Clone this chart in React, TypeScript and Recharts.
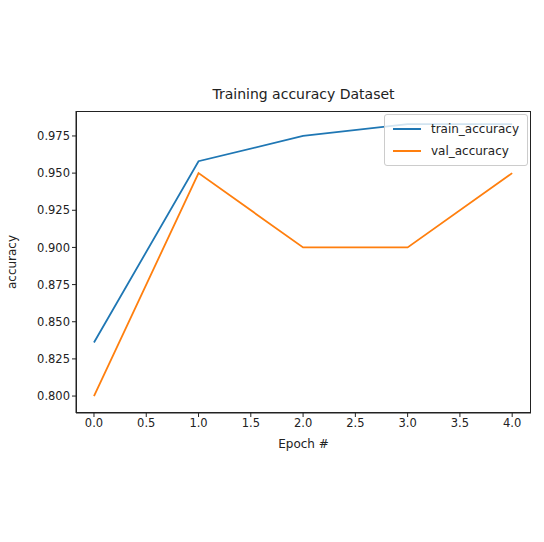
import React from 'react'
import { LineChart, Line, XAxis, YAxis } from 'recharts'

const epochs = [0, 1, 2, 3, 4]
const trainAccuracy = [0.836, 0.958, 0.975, 0.983, 0.983]
const valAccuracy = [0.8, 0.95, 0.9, 0.9, 0.95]
const xTicks = [0, 0.5, 1, 1.5, 2, 2.5, 3, 3.5, 4]
const yTicks = [0.8, 0.825, 0.85, 0.875, 0.9, 0.925, 0.95, 0.975]

const data = epochs.map((e, i) => ({ epoch: e, train: trainAccuracy[i], val: valAccuracy[i] }))

const font = 'DejaVu Sans, sans-serif'
const tick = { fontSize: 11.5, fill: '#222', fontFamily: font }

function LegendBox() {
  const row = (color: string, label: string) => (
    <div style={{ display: 'flex', alignItems: 'center', height: 22 }}>
      <div style={{ width: 28, height: 2, background: color, marginRight: 10 }} />
      <span>{label}</span>
    </div>
  )
  return (
    <div style={{ position: 'absolute', top: 114, right: 16, border: '1px solid #ccc', borderRadius: 3, background: 'rgba(255,255,255,0.8)', padding: '3px 8px', fontFamily: font, fontSize: 12, color: '#222' }}>
      {row('#1f77b4', 'train_accuracy')}
      {row('#ff7f0e', 'val_accuracy')}
    </div>
  )
}

export default function App() {
  return (
    <div style={{ position: 'absolute', top: 0, left: 0, width: 544, height: 542, background: '#fff' }}>
      <div style={{ position: 'absolute', top: 86, left: 76, width: 455, textAlign: 'center', fontFamily: font, fontSize: 14, color: '#222' }}>
        Training accuracy Dataset
      </div>
      <div style={{ position: 'absolute', top: 437, left: 76, width: 455, textAlign: 'center', fontFamily: font, fontSize: 12, color: '#222' }}>
        Epoch #
      </div>
      <div style={{ position: 'absolute', top: 262, left: 12, transform: 'translate(-50%,-50%) rotate(-90deg)', fontFamily: font, fontSize: 12, color: '#222' }}>
        accuracy
      </div>
      <LineChart width={544} height={542} data={data} margin={{ top: 111, right: 13, left: 0, bottom: 0 }}>
        <XAxis dataKey="epoch" type="number" domain={[-0.172, 4.18]} ticks={xTicks} tickFormatter={(v: number) => v.toFixed(1)}
          height={129} tick={tick} stroke="#222" tickSize={4} allowDataOverflow />
        <YAxis type="number" domain={[0.7886, 0.9918]} ticks={yTicks} tickFormatter={(v: number) => v.toFixed(3)}
          width={76} tick={tick} stroke="#222" tickSize={4} allowDataOverflow />
        <Line dataKey="train" stroke="#1f77b4" strokeWidth={1.8} dot={false} isAnimationActive={false} />
        <Line dataKey="val" stroke="#ff7f0e" strokeWidth={1.8} dot={false} isAnimationActive={false} />
      </LineChart>
      <LegendBox />
      <div style={{ position: 'absolute', top: 111, left: 76, width: 455, height: 302, border: '1px solid #222', boxSizing: 'border-box', pointerEvents: 'none' }} />
    </div>
  )
}
